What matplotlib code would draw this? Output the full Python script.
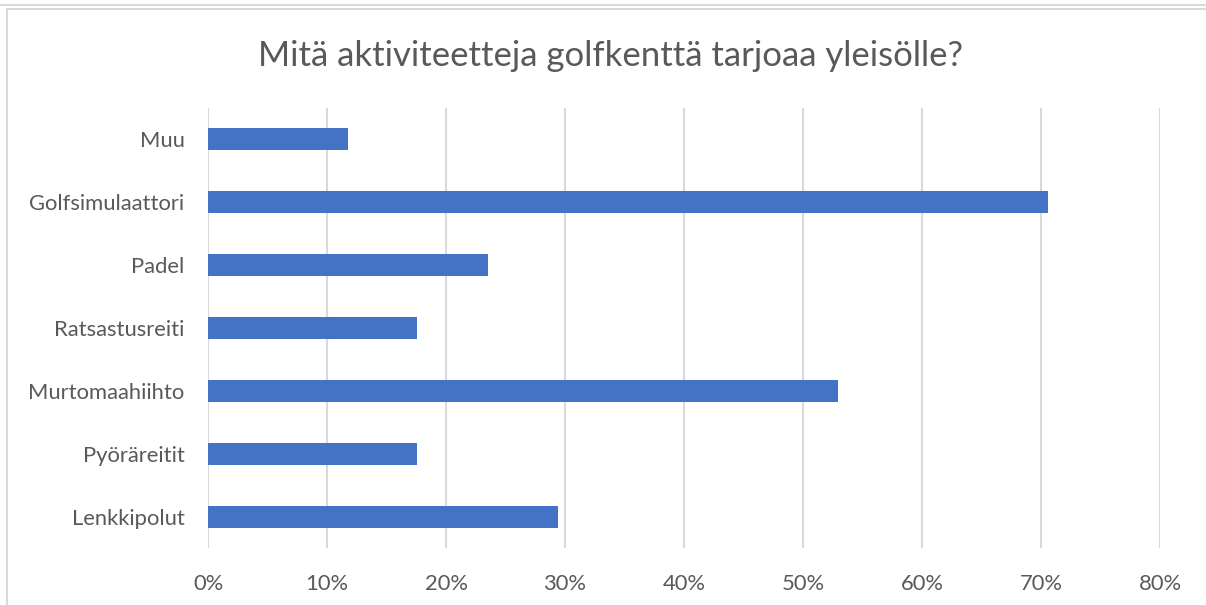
import numpy as np
import matplotlib.pyplot as plt
from matplotlib.ticker import PercentFormatter
from matplotlib.patches import Rectangle

# Data (share of respondents, %)
categories = ['Muu', 'Golfsimulaattori', 'Padel', 'Ratsastusreiti',
              'Murtomaahiihto', 'Pyöräreitit', 'Lenkkipolut']
values = [11.8, 70.6, 23.5, 17.6, 52.9, 17.6, 29.4]
xticks = [0, 10, 20, 30, 40, 50, 60, 70, 80]

plt.rcParams['font.family'] = ['Lato', 'DejaVu Sans']
text_color = '#595959'

fig = plt.figure(figsize=(12.06, 6.05), dpi=100)
ax = fig.add_axes([208 / 1206, 1 - 548 / 605, 952 / 1206, 440 / 605])

# Chart frame lines like the Excel screenshot
fig.add_artist(Rectangle((6.5 / 1206, -0.1), 1.2, (605 - 9.5) / 605 + 0.1,
                         transform=fig.transFigure, fill=False,
                         edgecolor='#d9d9d9', linewidth=1.5))
fig.add_artist(plt.Line2D([0, 1], [1 - 4.5 / 605] * 2, transform=fig.transFigure,
                          color='#d9d9d9', linewidth=1.5))

y = np.arange(len(categories))
ax.barh(y, values, height=0.35, color='#4472C4', zorder=3)

ax.set_xlim(0, 80)
ax.set_ylim(len(categories) - 0.5, -0.5)
ax.set_xticks(xticks)
ax.xaxis.set_major_formatter(PercentFormatter(decimals=0))
ax.set_yticks(y)
ax.set_yticklabels(categories)

ax.grid(axis='x', color='#d9d9d9', linewidth=1.5, zorder=0)
for s in ax.spines.values():
    s.set_visible(False)
ax.tick_params(length=0, colors=text_color, labelsize=15.8)
ax.tick_params(axis='y', pad=17)
ax.tick_params(axis='x', pad=19)

fig.text(610 / 1206, 1 - 56 / 605, 'Mitä aktiviteetteja golfkenttä tarjoaa yleisölle?',
         ha='center', va='center', fontsize=25, color=text_color)

fig.savefig('out.png', dpi=100, facecolor='white')
